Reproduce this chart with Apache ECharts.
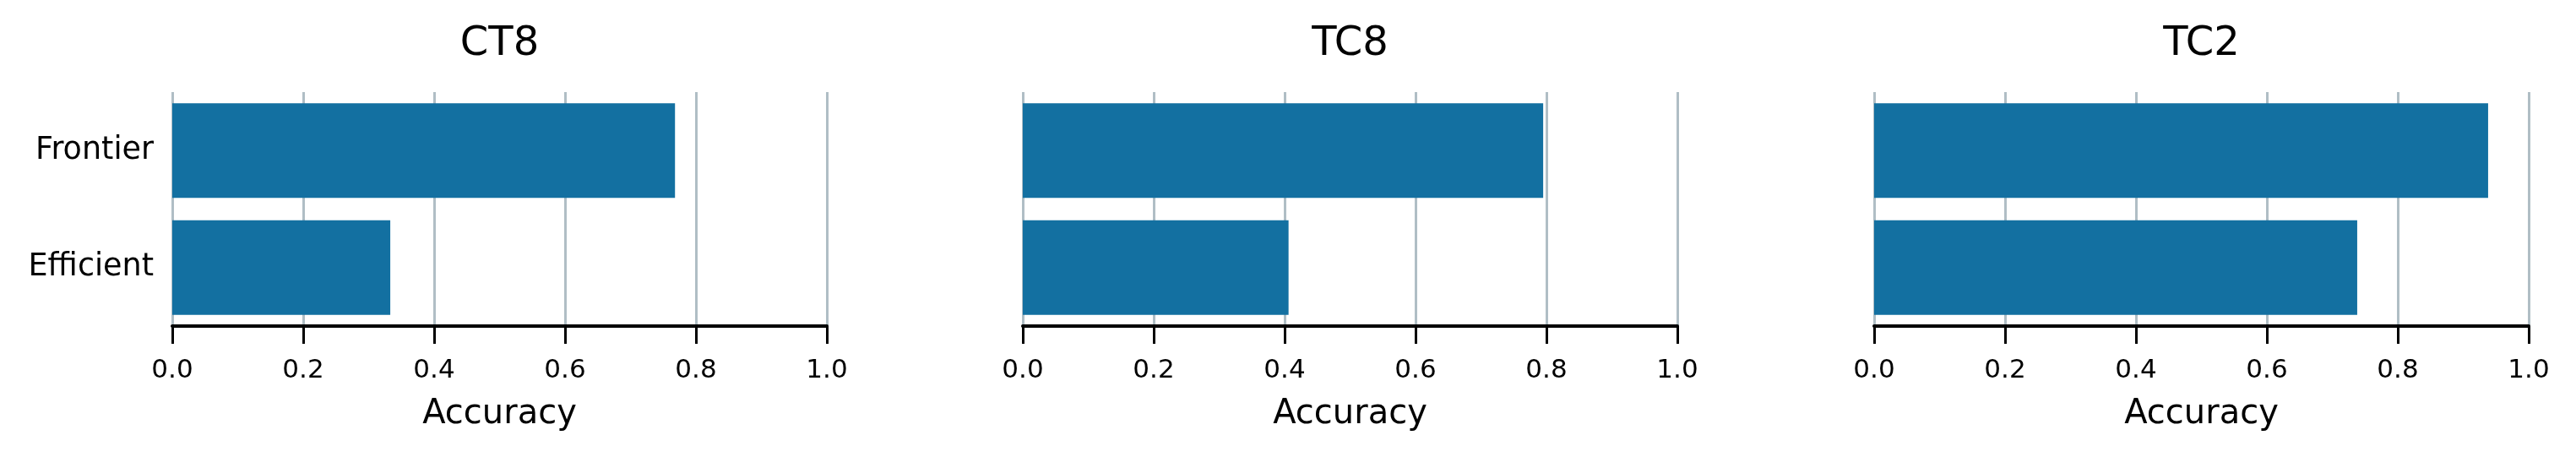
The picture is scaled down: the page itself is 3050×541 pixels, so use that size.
<!DOCTYPE html>
<html style="height: 100%">
<head>
    <meta charset="utf-8">
    <title>Accuracy by task</title>
    <script src="https://cdn.jsdelivr.net/npm/echarts@6/dist/echarts.min.js"></script>
</head>
<body style="height: 100%; margin: 0; background: #fff">
    <div id="container" style="width: 3050px; height: 541px"></div>
    <script type="text/javascript">
        // data
        var panelTitles = ['CT8', 'TC8', 'TC2'];
        var models = ['Frontier', 'Efficient'];
        var frontierAcc = [0.768, 0.795, 0.938];
        var efficientAcc = [0.333, 0.406, 0.738];
        var axisName = 'Accuracy';

        var FONT = 'DejaVu Sans';
        var barColor = '#1370a1';
        var gridColor = '#b0bec5';

        // panel layout (px)
        var panelLeft = [204, 1211, 2219];
        var panelWidth = 775;
        var panelTop = 109;
        var panelHeight = 277;

        var chart = echarts.init(document.getElementById('container'));

        var grids = [], xAxes = [], yAxes = [], series = [], titles = [];

        panelTitles.forEach(function (name, i) {
            grids.push({
                left: panelLeft[i], top: panelTop,
                width: panelWidth, height: panelHeight,
                containLabel: false
            });
            titles.push({
                text: name,
                left: panelLeft[i] + panelWidth / 2,
                top: 53,
                padding: 0,
                textAlign: 'center',
                textVerticalAlign: 'middle',
                textStyle: { fontFamily: FONT, fontSize: 48, fontWeight: 'normal', color: '#000' }
            });
            xAxes.push({
                type: 'value',
                gridIndex: i,
                min: 0, max: 1, interval: 0.2,
                name: axisName,
                nameLocation: 'middle',
                nameGap: 85,
                nameTextStyle: { fontFamily: FONT, fontSize: 40, color: '#000' },
                axisLine: { show: true, lineStyle: { color: '#000', width: 4 } },
                axisTick: { show: true, length: 21, lineStyle: { color: '#000', width: 3 } },
                axisLabel: {
                    margin: 37,
                    fontFamily: FONT, fontSize: 31, color: '#000',
                    formatter: function (v) { return v.toFixed(1); }
                },
                splitLine: { show: true, lineStyle: { color: gridColor, width: 3 } }
            });
            yAxes.push({
                type: 'category',
                gridIndex: i,
                data: models,
                inverse: true,
                axisLine: { show: false },
                axisTick: { show: false },
                splitLine: { show: false },
                axisLabel: {
                    show: i === 0,
                    margin: 22,
                    padding: [10, 0, 0, 0],
                    fontFamily: FONT, fontSize: 36.5, color: '#000'
                }
            });
            series.push({
                type: 'bar',
                xAxisIndex: i,
                yAxisIndex: i,
                barWidth: 112,
                itemStyle: { color: barColor },
                silent: true,
                data: [frontierAcc[i], efficientAcc[i]]
            });
        });

        chart.setOption({
            animation: false,
            backgroundColor: '#fff',
            title: titles,
            grid: grids,
            xAxis: xAxes,
            yAxis: yAxes,
            series: series
        });
    </script>
</body>
</html>
